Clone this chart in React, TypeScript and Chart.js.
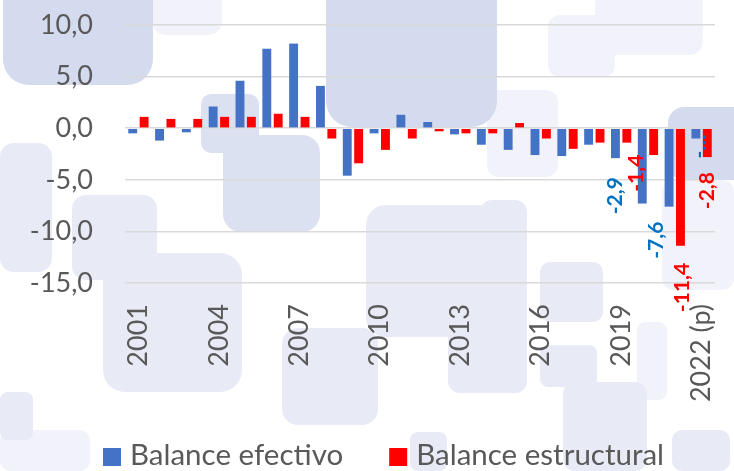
import React, { useEffect, useRef } from "react";
import { Chart, registerables } from "chart.js";

Chart.register(...registerables);

// ---------- data ----------
const years = [
  "2001", "2002", "2003", "2004", "2005", "2006", "2007", "2008", "2009", "2010", "2011",
  "2012", "2013", "2014", "2015", "2016", "2017", "2018", "2019", "2020", "2021", "2022 (p)",
];
const balanceEfectivo = [
  -0.5, -1.2, -0.4, 2.1, 4.6, 7.7, 8.2, 4.1, -4.6, -0.5, 1.3,
  0.6, -0.6, -1.6, -2.1, -2.6, -2.7, -1.6, -2.9, -7.3, -7.6, -1.0,
];
const balanceEstructural = [
  1.1, 0.9, 0.9, 1.1, 1.1, 1.4, 1.1, -1.0, -3.4, -2.1, -1.0,
  -0.3, -0.5, -0.5, 0.5, -1.0, -2.0, -1.4, -1.4, -2.6, -11.4, -2.8,
];
const seriesNames = ["Balance efectivo", "Balance estructural"];
const yMin = -15;
const yMax = 10;
const yStep = 5;
const tickEvery = 3;

// labelled bars: series index, category index, optional shown text
const labelledBars = [
  { series: 0, index: 18 },
  { series: 1, index: 18 },
  { series: 0, index: 20 },
  { series: 1, index: 20 },
  { series: 0, index: 21, text: "-\u2026" },
  { series: 1, index: 21 },
];
// label nudges (px) so labels do not collide, as in the original
const labelNudges = [
  { dx: 0, dy: 4 },
  { dx: 9, dy: -3 },
  { dx: -13, dy: 0 },
  { dx: 2, dy: 2 },
  { dx: 3, dy: -19 },
  { dx: 0, dy: 0 },
];

// ---------- styles ----------
const FONT = "Lato, 'Open Sans', sans-serif";
const TEXT = "#595959";
const BLUE = "#4472C4";
const RED = "#FF0000";
const LABEL_BLUE = "#0070C0";

const S = "#D5DBEE";
const M = "#DCE1F1";
const L = "#E8EBF6";
const F = "#F2F3FA";
// decorative background tiles [x, y, w, h, r, color]
const decor: [number, number, number, number, number, string][] = [
  [152, -10, 70, 45, 14, F],
  [595, -10, 108, 65, 14, F],
  [548, 15, 67, 62, 12, F],
  [487, 90, 71, 87, 12, F],
  [0, 430, 90, 41, 10, F],
  [637, 322, 30, 78, 8, F],
  [662, 180, 72, 110, 12, F],
  [0, 143, 52, 129, 14, L],
  [72, 195, 85, 85, 14, L],
  [103, 253, 139, 139, 22, L],
  [282, 328, 96, 97, 16, L],
  [366, 205, 131, 132, 20, L],
  [480, 200, 47, 193, 12, L],
  [448, 307, 52, 86, 12, L],
  [540, 262, 63, 60, 10, L],
  [540, 345, 57, 42, 8, L],
  [563, 382, 84, 89, 12, L],
  [672, 430, 58, 41, 10, L],
  [410, 432, 37, 39, 8, L],
  [0, 392, 33, 48, 8, L],
  [201, 94, 58, 59, 10, M],
  [223, 135, 97, 97, 18, M],
  [3, -30, 150, 115, 26, S],
  [326, -30, 171, 157, 26, S],
  [668, 107, 80, 73, 16, S],
];

function fmt(v: number) {
  return v.toFixed(1).replace(".", ",");
}

const backgroundPlugin = {
  id: "bgTiles",
  beforeDraw(chart: any) {
    const ctx = chart.ctx as CanvasRenderingContext2D;
    ctx.save();
    ctx.fillStyle = "#FFFFFF";
    ctx.fillRect(0, 0, chart.width, chart.height);
    for (const [x, y, w, h, r, c] of decor) {
      ctx.fillStyle = c;
      ctx.beginPath();
      (ctx as any).roundRect(x, y, w, h, r);
      ctx.fill();
    }
    ctx.restore();
  },
};

const labelPlugin = {
  id: "barLabels",
  afterDatasetsDraw(chart: any) {
    const ctx = chart.ctx as CanvasRenderingContext2D;
    ctx.save();
    ctx.font = `bold 21px ${FONT}`;
    ctx.textAlign = "right";
    ctx.textBaseline = "middle";
    labelledBars.forEach((lb, k) => {
      const meta = chart.getDatasetMeta(lb.series);
      const bar = meta.data[lb.index];
      if (!bar) return;
      const value = chart.data.datasets[lb.series].data[lb.index] as number;
      const text = lb.text ?? fmt(value);
      const nudge = labelNudges[k];
      ctx.save();
      ctx.translate(bar.x + nudge.dx, bar.y + 15 + nudge.dy);
      ctx.rotate(-Math.PI / 2);
      ctx.fillStyle = lb.series === 0 ? LABEL_BLUE : RED;
      ctx.fillText(text, 0, 0);
      ctx.restore();
    });
    ctx.restore();
  },
};

const legendPlugin = {
  id: "bottomLegend",
  afterDraw(chart: any) {
    const ctx = chart.ctx as CanvasRenderingContext2D;
    ctx.save();
    ctx.font = `29.5px ${FONT}`;
    ctx.textBaseline = "alphabetic";
    ctx.textAlign = "left";
    let x = 103;
    const base = 465;
    chart.data.datasets.forEach((ds: any) => {
      ctx.fillStyle = ds.backgroundColor;
      ctx.fillRect(x, 448, 18, 18);
      x += 27;
      ctx.fillStyle = TEXT;
      ctx.fillText(ds.label, x, base);
      x += ctx.measureText(ds.label).width + 46;
    });
    ctx.restore();
  },
};

export default function App() {
  const ref = useRef<HTMLCanvasElement | null>(null);

  useEffect(() => {
    document.body.style.margin = "0";
    const canvas = ref.current;
    if (!canvas) return;
    const chart = new Chart(canvas, {
      type: "bar",
      data: {
        labels: years,
        datasets: [
          {
            label: seriesNames[0],
            data: balanceEfectivo,
            backgroundColor: BLUE,
            categoryPercentage: 0.85,
            barPercentage: 0.78,
          },
          {
            label: seriesNames[1],
            data: balanceEstructural,
            backgroundColor: RED,
            categoryPercentage: 0.85,
            barPercentage: 0.78,
          },
        ],
      },
      options: {
        responsive: false,
        animation: false,
        devicePixelRatio: 1,
        layout: { padding: { top: 25, right: 19, bottom: 0, left: 0 } },
        plugins: {
          legend: { display: false },
          tooltip: { enabled: false },
        },
        scales: {
          x: {
            grid: { display: false },
            border: { display: false },
            ticks: {
              autoSkip: false,
              minRotation: 90,
              maxRotation: 90,
              padding: 13,
              color: TEXT,
              font: { family: FONT, size: 27 },
              callback: (_v: any, i: number) => (i % tickEvery === 0 ? years[i] : ""),
            },
            afterFit: (s: any) => {
              s.height = 188;
              s.paddingLeft = 0;
              s.paddingRight = 0;
            },
          },
          y: {
            min: yMin,
            max: yMax,
            border: { display: false },
            grid: {
              color: "#D9D9D9",
              lineWidth: 1.6,
              drawTicks: true,
              tickLength: 29,
              tickColor: "rgba(0,0,0,0)",
            },
            ticks: {
              stepSize: yStep,
              padding: 3,
              color: TEXT,
              font: { family: FONT, size: 27 },
              callback: (v: any) => fmt(Number(v)),
            },
            afterFit: (s: any) => {
              s.width = 125;
            },
          },
        },
      },
      plugins: [backgroundPlugin, labelPlugin, legendPlugin],
    });
    return () => chart.destroy();
  }, []);

  return (
    <div style={{ position: "absolute", left: 0, top: 0, width: 734, height: 471 }}>
      <canvas ref={ref} width={734} height={471} style={{ width: 734, height: 471, display: "block" }} />
    </div>
  );
}
